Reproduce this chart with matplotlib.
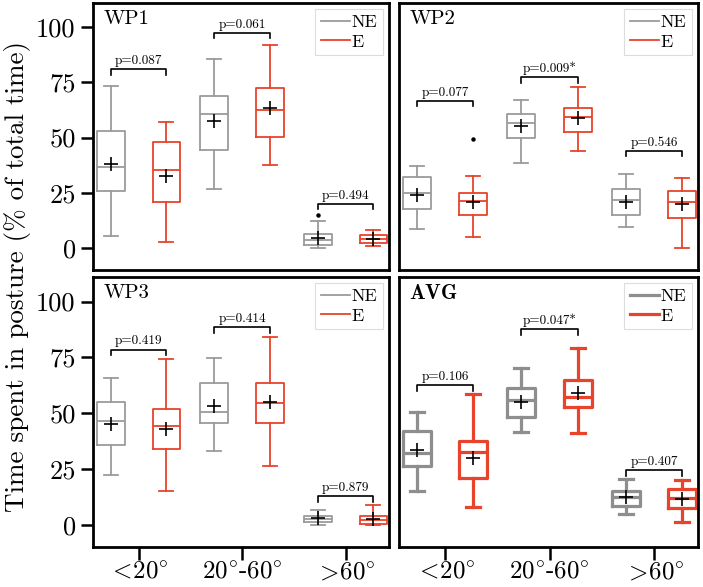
import matplotlib
matplotlib.use("Agg")
import matplotlib.pyplot as plt
from matplotlib.lines import Line2D

plt.rcParams.update({
    "font.family": "serif",
    "font.serif": ["cmr10", "DejaVu Serif"],
    "mathtext.fontset": "cm",
    "axes.formatter.use_mathtext": True,
    "axes.unicode_minus": False,
})

categories = [r"$<\!20^{\circ}$", r"$20^{\circ}$-$60^{\circ}$", r"$>\!60^{\circ}$"]
groups = ["NE", "E"]
panels = ["WP1", "WP2", "WP3", "AVG"]

# stats per panel: for each category -> (whislo, q1, med, q3, whishi, mean)
wp1_ne = [(5.2, 25.9, 36.8, 53.1, 73.2, 37.9), (26.6, 44.2, 60.7, 68.9, 85.7, 57.6), (0.0, 1.5, 3.4, 6.1, 12.0, 4.5)]
wp1_e = [(2.8, 20.9, 35.5, 48.0, 57.1, 32.6), (37.6, 50.5, 62.5, 72.6, 91.9, 63.6), (1.0, 2.3, 4.1, 5.7, 8.3, 4.1)]
wp2_ne = [(8.8, 17.6, 25.1, 32.0, 37.0, 24.1), (38.6, 49.8, 56.7, 60.6, 66.9, 55.2), (9.6, 15.0, 21.5, 26.9, 33.5, 20.9)]
wp2_e = [(4.8, 15.0, 21.2, 25.1, 32.8, 20.9), (43.9, 52.5, 59.3, 63.3, 72.8, 58.9), (0.0, 13.4, 20.8, 25.7, 31.6, 20.0)]
wp3_ne = [(22.1, 35.6, 46.3, 54.9, 65.9, 45.0), (32.9, 45.6, 50.5, 63.3, 74.5, 53.1), (0.0, 1.4, 2.6, 3.8, 6.5, 2.9)]
wp3_e = [(14.9, 33.7, 44.1, 51.8, 74.3, 42.7), (26.3, 45.6, 54.7, 63.3, 84.1, 55.2), (0.0, 0.5, 2.1, 4.1, 8.6, 2.4)]
avg_ne = [(15.2, 26.3, 32.2, 42.0, 50.4, 33.3), (41.5, 48.3, 56.0, 61.2, 70.3, 55.2), (5.0, 8.3, 12.5, 15.2, 20.4, 12.4)]
avg_e = [(8.0, 21.1, 32.5, 37.3, 58.7, 30.1), (40.9, 52.8, 57.3, 64.8, 79.3, 58.8), (1.2, 7.5, 11.9, 15.8, 20.0, 11.7)]

# outliers: (panel, category index, group index) -> values
outliers = {("WP1", 2, 0): [15.0], ("WP2", 0, 1): [49.5]}

pvalues = {
    "WP1": ["p=0.087", "p=0.061", "p=0.494"],
    "WP2": ["p=0.077", "p=0.009*", "p=0.546"],
    "WP3": ["p=0.419", "p=0.414", "p=0.879"],
    "AVG": ["p=0.106", "p=0.047*", "p=0.407"],
}
bracket_y = {
    "WP1": [81.0, 97.5, 20.0],
    "WP2": [66.6, 77.4, 44.0],
    "WP3": [78.5, 88.4, 12.8],
    "AVG": [62.4, 87.7, 24.4],
}
yticks = [0, 25, 50, 75, 100]

stats = {"WP1": (wp1_ne, wp1_e), "WP2": (wp2_ne, wp2_e),
         "WP3": (wp3_ne, wp3_e), "AVG": (avg_ne, avg_e)}

gray = "#9b9b9b"
gray_avg = "#8e8e8e"
red = "#e8432b"

fig = plt.figure(figsize=(7.03, 5.87), dpi=100)
W, H = 703, 587
def ax_rect(x0, y0, x1, y1):
    return [x0 / W, 1 - y1 / H, (x1 - x0) / W, (y1 - y0) / H]

rects = {
    "WP1": ax_rect(93, 3, 389, 270),
    "WP2": ax_rect(399, 3, 698, 270),
    "WP3": ax_rect(93, 277, 389, 547),
    "AVG": ax_rect(399, 277, 698, 547),
}

off = 0.27
bw = 0.27
for name in panels:
    ax = fig.add_axes(rects[name])
    ne, e = stats[name]
    is_avg = name == "AVG"
    lw = 2.3 if is_avg else 1.3
    gcol = gray_avg if is_avg else gray
    for gi, (series, col) in enumerate(zip((ne, e), (gcol, red))):
        bxp_stats = []
        for ci, s in enumerate(series):
            bxp_stats.append(dict(whislo=s[0], q1=s[1], med=s[2], q3=s[3], whishi=s[4],
                                  mean=s[5], fliers=outliers.get((name, ci, gi), [])))
        pos = [ci + (-off if gi == 0 else off) for ci in range(len(series))]
        ax.bxp(bxp_stats, positions=pos, widths=bw, showmeans=True, patch_artist=False,
               boxprops=dict(color=col, linewidth=lw),
               medianprops=dict(color=col, linewidth=lw),
               whiskerprops=dict(color=col, linewidth=lw),
               capprops=dict(color=col, linewidth=lw),
               meanprops=dict(marker="+", markeredgecolor="black", markersize=10, markeredgewidth=1.2),
               flierprops=dict(marker="o", markerfacecolor="black", markeredgecolor="black", markersize=2.2),
               manage_ticks=False)
    # significance brackets
    for ci in range(3):
        yb = bracket_y[name][ci]
        x0, x1 = ci - off, ci + off
        ax.plot([x0, x0, x1, x1], [yb - 2.5, yb, yb, yb - 2.5], color="black", lw=1.2)
        ax.text(ci, yb + 1.0, pvalues[name][ci], ha="center", va="bottom", fontsize=9.5)
    # legend
    handles = [Line2D([], [], color=gcol, lw=lw), Line2D([], [], color=red, lw=lw)]
    leg = ax.legend(handles, groups, loc="upper right", fontsize=13, handlelength=1.6,
                    handletextpad=0.1, borderpad=0.3, labelspacing=0.2, fancybox=False,
                    framealpha=1, borderaxespad=0.35)
    leg.get_frame().set_edgecolor("#dddddd")
    leg.get_frame().set_linewidth(0.8)
    # panel title
    title = r"$\mathbf{AVG}$" if is_avg else name
    ax.text(0.035, 0.975, title, transform=ax.transAxes, ha="left", va="top", fontsize=15)
    ax.set_xlim(-0.44, 2.42)
    ax.set_ylim(-10, 111)
    for sp in ax.spines.values():
        sp.set_linewidth(2.0)
    ax.tick_params(axis="both", which="major", direction="out", length=9, width=1.8,
                   labelsize=19)
    ax.tick_params(axis="x", pad=1.5)
    if name in ("WP1", "WP3"):
        ax.set_yticks(yticks)
        ax.set_yticklabels([str(t) for t in yticks])
    else:
        ax.set_yticks([])
    if name in ("WP3", "AVG"):
        ax.set_xticks(range(len(categories)))
        ax.set_xticklabels(categories, fontsize=18)
    else:
        ax.set_xticks([])

fig.text(18 / W, 1 - 277 / H, "Time spent in posture (% of total time)", rotation=90,
         ha="center", va="center", fontsize=19.5)

fig.savefig("out.png", dpi=100)
